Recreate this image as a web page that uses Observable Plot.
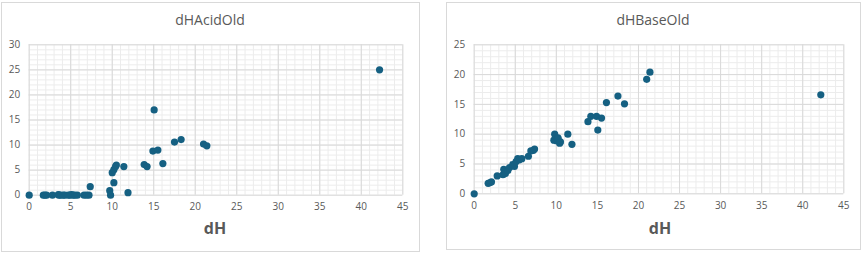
<!DOCTYPE html>
<html><head><meta charset="utf-8">
<script src="https://cdn.jsdelivr.net/npm/d3@7"></script>
<script src="https://cdn.jsdelivr.net/npm/@observablehq/plot@0.6"></script>
<style>
body{margin:0;background:#fff;font-family:"Open Sans",sans-serif;}
#wrap{position:relative;width:862px;height:254px;overflow:hidden;background:#fff}
.box{position:absolute;border:1px solid #d9d9d9;box-sizing:border-box}
.title{position:absolute;font-size:14px;color:#595959;text-align:center;line-height:20px;width:240px}
.xlab{position:absolute;font-size:16px;font-weight:bold;color:#595959;text-align:center;line-height:20px;width:100px}
.panel{position:absolute;top:0}
</style></head><body><div id="wrap"></div>
<script>
// shared x values (dH)
const dH    = [0, 1.7, 1.9, 2.1, 2.8, 3.5, 3.6, 3.8, 4.1, 4.3, 4.7, 4.9, 5.1, 5.3, 5.5, 5.8, 6.6, 6.9, 7.2, 7.35,
               9.7, 9.8, 10.0, 10.2, 10.2, 10.4, 10.5, 11.4, 11.9, 13.85, 14.2, 14.9, 15.05, 15.5, 16.1, 17.5, 18.3, 21.0, 21.4, 42.2];
const acidOld = [0, 0, 0, 0, 0, 0.1, 0, 0, 0, 0, 0, 0, 0.1, 0, 0, 0, 0, 0, 0, 1.7,
               0.9, 0, 4.5, 2.5, 5.1, 5.7, 6.0, 5.7, 0.5, 6.1, 5.7, 8.8, 17.0, 9.0, 6.3, 10.6, 11.1, 10.2, 9.85, 25.0];
const baseOld = [0, 1.75, 1.85, 2.0, 3.0, 3.2, 4.1, 3.4, 3.9, 4.4, 4.9, 4.6, 5.4, 5.9, 5.7, 5.9, 6.3, 7.2, 7.3, 7.5,
               9.0, 10.0, 8.9, 9.4, 9.2, 8.5, 8.7, 10.0, 8.3, 12.1, 13.0, 13.0, 10.7, 12.7, 15.3, 16.4, 15.1, 19.2, 20.4, 16.6];
const xTicks = [0, 5, 10, 15, 20, 25, 30, 35, 40, 45];
const yTicksAcid = [0, 5, 10, 15, 20, 25, 30];
const yTicksBase = [0, 5, 10, 15, 20, 25];
const titles = ["dHAcidOld", "dHBaseOld"];
const xLabel = "dH";

const wrap = document.getElementById("wrap");

function panel({left, box, margins, yMax, yTicks, values, title, titleX, labX}) {
  const b = document.createElement("div");
  b.className = "box";
  Object.assign(b.style, {left: box[0] + "px", top: box[1] + "px", width: box[2] + "px", height: box[3] + "px"});
  wrap.appendChild(b);

  const data = dH.map((x, i) => ({x, y: values[i]}));
  const minorX = d3.range(0, 46, 1);
  const minorY = d3.range(0, yMax + 1, 1);
  const svg = Plot.plot({
    width: 431, height: 254,
    marginLeft: margins[0], marginRight: margins[1], marginTop: margins[2], marginBottom: margins[3],
    style: {fontFamily: '"Open Sans", sans-serif', fontSize: "10px", color: "#595959", background: "transparent", overflow: "visible"},
    x: {domain: [0, 45], ticks: xTicks, tickSize: 0, tickPadding: 8, label: null},
    y: {domain: [0, yMax], ticks: yTicks, tickSize: 0, tickPadding: 9, label: null},
    marks: [
      Plot.ruleX(minorX, {stroke: "#ececec", strokeWidth: 1}),
      Plot.ruleY(minorY, {stroke: "#ececec", strokeWidth: 1}),
      Plot.ruleX(xTicks, {stroke: "#d9d9d9", strokeWidth: 1}),
      Plot.ruleY(yTicks, {stroke: "#d9d9d9", strokeWidth: 1}),
      Plot.dot(data, {x: "x", y: "y", r: 3.6, fill: "#156082", stroke: "none"})
    ]
  });
  svg.classList.add("panel");
  svg.style.left = left + "px";
  wrap.appendChild(svg);

  const t = document.createElement("div");
  t.className = "title";
  t.textContent = title;
  t.style.left = (titleX - 120) + "px";
  t.style.top = "10px";
  wrap.appendChild(t);

  const l = document.createElement("div");
  l.className = "xlab";
  l.textContent = xLabel;
  l.style.left = (labX - 50) + "px";
  l.style.top = "218px";
  wrap.appendChild(l);
}

panel({left: 0, box: [1, 2, 419, 250], margins: [28.7, 28.7, 44.3, 59.3], yMax: 30, yTicks: yTicksAcid,
       values: acidOld, title: titles[0], titleX: 210, labX: 215});
panel({left: 431, box: [446, 2, 415, 248], margins: [42.7, 18.7, 44.3, 60.7], yMax: 25, yTicks: yTicksBase,
       values: baseOld, title: titles[1], titleX: 653, labX: 660});
</script></body></html>
